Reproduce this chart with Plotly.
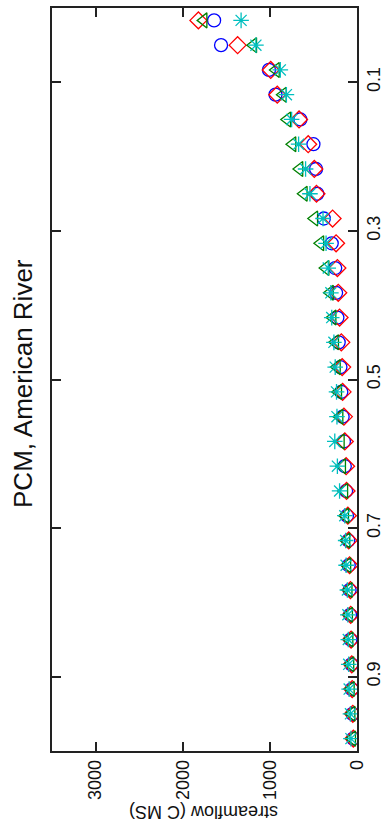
import plotly.graph_objects as go

# exceedance probability for each of 30 ranked values
n_points = 30
probability = [(i - 0.5) / n_points for i in range(1, n_points + 1)]

series_names = ["series 1", "series 2", "series 3", "series 4"]

flow_blue = [1640, 1560, 1010, 935, 650, 500, 470, 455, 380, 290,
             250, 240, 225, 210, 190, 180, 165, 150, 140, 125,
             115, 100, 95, 85, 80, 75, 65, 60, 52, 45]
flow_red = [1820, 1370, 990, 915, 665, 560, 490, 465, 280, 240,
            225, 215, 200, 180, 170, 165, 150, 140, 125, 120,
            105, 95, 85, 75, 72, 68, 60, 55, 48, 42]
flow_green = [1760, 1190, 930, 850, 800, 740, 660, 610, 490, 420,
              360, 310, 280, 250, 230, 215, 200, 185, 170, 145,
              135, 120, 110, 95, 90, 85, 75, 70, 62, 55]
flow_cyan = [1330, 1160, 880, 810, 750, 670, 590, 540, 390, 355,
             330, 300, 290, 265, 250, 235, 230, 255, 225, 200,
             140, 130, 125, 110, 105, 100, 95, 90, 75, 70]

x_ticks = [0, 1000, 2000, 3000]
y_ticks = [0.1, 0.3, 0.5, 0.7, 0.9]

styles = [
    (flow_blue, "circle-open", "#0000ff"),
    (flow_red, "diamond-open", "#ff0000"),
    (flow_green, "triangle-left-open", "#008000"),
    (flow_cyan, "asterisk-open", "#00bfbf"),
]

fig = go.Figure()
for name, (vals, sym, col) in zip(series_names, styles):
    fig.add_trace(go.Scatter(
        x=vals, y=probability, mode="markers", name=name,
        marker=dict(symbol=sym, size=13, color=col,
                    line=dict(width=1.3, color=col)),
    ))

font_family = "Liberation Sans, Arial, sans-serif"

fig.update_layout(
    width=390, height=825,
    margin=dict(l=52, r=31, t=6, b=74),
    paper_bgcolor="white", plot_bgcolor="white",
    showlegend=False,
    font=dict(family=font_family, color="#111111"),
    xaxis=dict(
        range=[3500, 0], tickvals=x_ticks, ticktext=[str(v) for v in x_ticks],
        ticks="inside", ticklen=9, tickwidth=1.5, tickcolor="#222222",
        showline=True, linecolor="#222222", linewidth=1.5, mirror="ticks",
        showgrid=False, zeroline=False, tickangle=-90,
        tickfont=dict(size=18, family=font_family, color="#111111"),
    ),
    yaxis=dict(
        range=[1, 0], tickvals=y_ticks, ticktext=[str(v) for v in y_ticks],
        side="right",
        ticks="inside", ticklen=9, tickwidth=1.5, tickcolor="#222222",
        showline=True, linecolor="#222222", linewidth=1.5, mirror="ticks",
        showgrid=False, zeroline=False, tickangle=-90,
        tickfont=dict(size=18, family=font_family, color="#111111"),
    ),
)

fig.add_annotation(
    text="PCM, American River", textangle=-90,
    xref="paper", yref="paper", x=-0.095, y=0.494,
    xanchor="center", yanchor="middle", showarrow=False,
    font=dict(size=26, family=font_family, color="#111111"),
)
fig.add_annotation(
    text="streamflow (C MS)", textangle=180,
    xref="paper", yref="paper", x=0.495, y=-0.083,
    xanchor="center", yanchor="middle", showarrow=False,
    font=dict(size=18, family=font_family, color="#111111"),
)

fig.write_html("out.html")
